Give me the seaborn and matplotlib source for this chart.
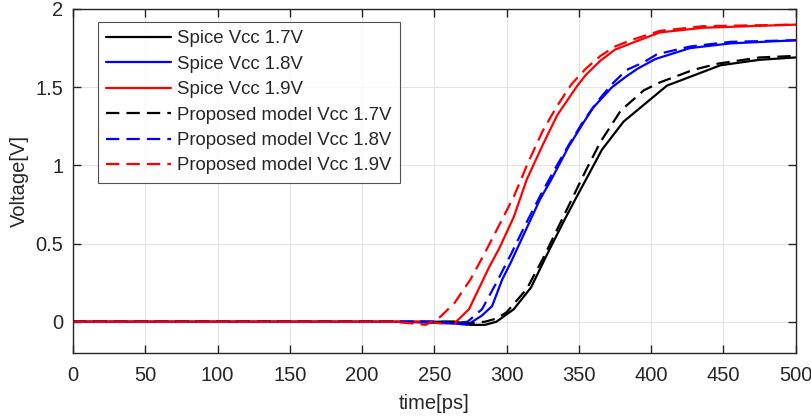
"""
Rising output transition: Spice vs proposed model for three supply voltages.
"""

import pandas as pd
import matplotlib.pyplot as plt
import seaborn as sns

# ── data ────────────────────────────────────────────────────────────────────
t_spice_17 = [0, 200, 265, 275, 285, 293, 305, 317, 328, 340, 348, 355, 366, 381, 411, 448, 475, 500]
v_spice_17 = [0, 0, 0, -0.02, -0.02, 0.0, 0.08, 0.22, 0.43, 0.65, 0.79, 0.91, 1.10, 1.28, 1.51, 1.64, 1.675, 1.69]

t_model_17 = [0, 200, 265, 275, 285, 293, 300, 314, 325, 335, 345, 355, 365, 379, 395, 406, 429, 446, 475, 500]
v_model_17 = [0, 0, 0, -0.01, 0.0, 0.02, 0.06, 0.21, 0.40, 0.59, 0.78, 0.97, 1.15, 1.35, 1.48, 1.53, 1.61, 1.65, 1.69, 1.70]

t_spice_18 = [0, 220, 263, 273, 283, 290, 297, 303, 313, 323, 331, 343, 353, 360, 373, 383, 391, 403, 427, 455, 500]
v_spice_18 = [0, 0, -0.01, -0.02, 0.04, 0.10, 0.27, 0.38, 0.58, 0.78, 0.91, 1.12, 1.27, 1.37, 1.50, 1.57, 1.62, 1.68, 1.75, 1.78, 1.80]

t_model_18 = [0, 220, 253, 263, 273, 283, 293, 303, 313, 323, 333, 343, 353, 363, 373, 383, 395, 404, 427, 455, 500]
v_model_18 = [0, 0, 0, -0.01, 0.0, 0.08, 0.25, 0.43, 0.62, 0.80, 0.97, 1.13, 1.28, 1.41, 1.52, 1.61, 1.66, 1.71, 1.76, 1.79, 1.80]

t_spice_19 = [0, 220, 244, 254, 264, 274, 288, 295, 305, 314, 325, 335, 349, 355, 365, 375, 386, 406, 436, 500]
v_spice_19 = [0, 0, 0, -0.01, -0.01, 0.08, 0.35, 0.47, 0.67, 0.91, 1.13, 1.32, 1.51, 1.58, 1.67, 1.74, 1.78, 1.85, 1.88, 1.90]

t_model_19 = [0, 220, 234, 244, 254, 264, 275, 285, 295, 305, 315, 325, 335, 345, 355, 365, 375, 386, 406, 436, 500]
v_model_19 = [0, 0, -0.01, -0.02, 0.03, 0.12, 0.27, 0.44, 0.62, 0.80, 1.02, 1.22, 1.38, 1.52, 1.62, 1.70, 1.76, 1.80, 1.86, 1.89, 1.90]

labels = ["Spice Vcc 1.7V", "Spice Vcc 1.8V", "Spice Vcc 1.9V",
          "Proposed model Vcc 1.7V", "Proposed model Vcc 1.8V", "Proposed model Vcc 1.9V"]
times = [t_spice_17, t_spice_18, t_spice_19, t_model_17, t_model_18, t_model_19]
volts = [v_spice_17, v_spice_18, v_spice_19, v_model_17, v_model_18, v_model_19]

# long-form table for seaborn
frames = [pd.DataFrame({"time": t, "voltage": v, "series": lab}) for lab, t, v in zip(labels, times, volts)]
df = pd.concat(frames, ignore_index=True)

palette = {
    labels[0]: "#000000", labels[1]: "#0000ff", labels[2]: "#ff0000",
    labels[3]: "#000000", labels[4]: "#0000ff", labels[5]: "#ff0000",
}
dash = (6, 3.2)
dashes = {labels[0]: "", labels[1]: "", labels[2]: "",
          labels[3]: dash, labels[4]: dash, labels[5]: dash}

sns.set_theme(style="whitegrid")
plt.rcParams["font.family"] = ["Liberation Sans", "DejaVu Sans"]

fig = plt.figure(figsize=(8.11, 4.18), dpi=100)
ax = fig.add_axes([0.090, 0.1555, 0.891, 0.823])

sns.lineplot(data=df, x="time", y="voltage", hue="series", style="series",
             hue_order=labels, style_order=labels, palette=palette, dashes=dashes,
             linewidth=1.6, estimator=None, sort=False, ax=ax)

ax.set_xlim(0, 500)
ax.set_ylim(-0.2, 2)
ax.set_xticks(range(0, 501, 50))
ax.set_yticks([0, 0.5, 1, 1.5, 2])
ax.set_yticklabels(["0", "0.5", "1", "1.5", "2"])

ax.set_xlabel("time[ps]", fontsize=14.5, labelpad=7, color="#262626")
ax.set_ylabel("Voltage[V]", fontsize=14.5, labelpad=5, color="#262626")

ax.set_facecolor("white")
ax.grid(True, color="#e3e3e3", linewidth=0.8)
for side in ax.spines.values():
    side.set_color("#262626")
    side.set_linewidth(1.0)
ax.tick_params(direction="in", length=6, width=1.0, color="#262626", labelsize=14.5,
               top=True, right=True, bottom=True, left=True, labelcolor="#262626")
ax.tick_params(axis="x", pad=9)
ax.tick_params(axis="y", pad=7)

leg = ax.legend(loc="upper left", bbox_to_anchor=(0.0345, 0.962), borderaxespad=0,
                fontsize=13.4, handlelength=3.5, handletextpad=0.3, labelspacing=0.45,
                borderpad=0.45, frameon=True, fancybox=False)
leg.get_frame().set_edgecolor("#262626")
leg.get_frame().set_linewidth(0.8)
for line in leg.get_lines():
    line.set_linewidth(1.6)

fig.savefig("out.png", dpi=100, facecolor="white")
